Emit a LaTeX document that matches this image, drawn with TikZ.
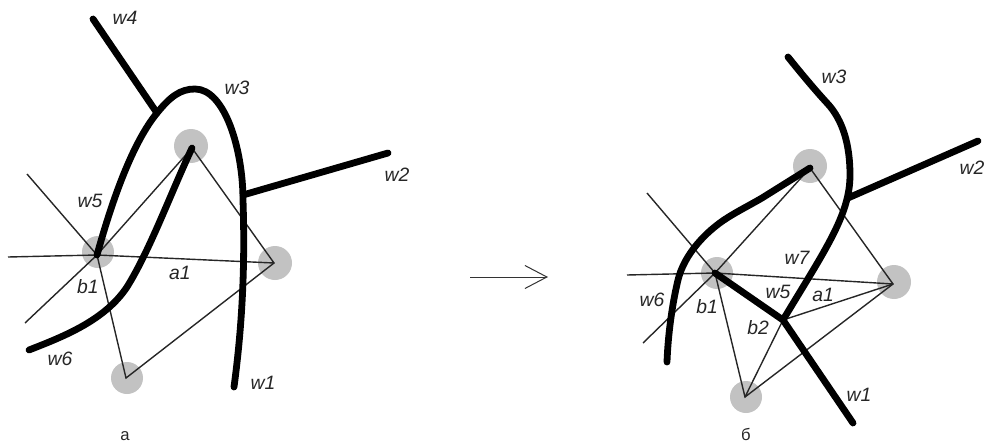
\documentclass[tikz,border=0pt]{standalone}
\usepackage{fontspec}
\setmainfont{Liberation Sans}
\usetikzlibrary{arrows.meta}
\tikzset{
  x=0.75pt,y=-0.75pt,
  hub/.style={circle,fill=black!24,draw=none,minimum size=34*0.75pt,inner sep=0pt},
  thin line/.style={line width=1.05pt,draw=black!85},
  wire/.style={line width=5.1pt,draw=black,line cap=round,line join=round},
  lab/.style={font=\fontsize{14.5pt}{16pt}\selectfont\itshape,inner sep=0pt,text=black!85},
  captext/.style={font=\fontsize{12.5pt}{15pt}\selectfont,inner sep=0pt,text=black!85},
}
\begin{document}
\begin{tikzpicture}
\useasboundingbox (0,0) rectangle (986,446);
% ---- left figure
\node[hub] (aT) at (191,146) {};
\node[hub,minimum size=32*0.75pt] (aL) at (98,252) {};
\node[hub] (aR) at (275,263) {};
\node[hub,minimum size=32*0.75pt] (aB) at (127,378) {};
\coordinate (at) at (192,148);
\coordinate (al) at (97,255);
\coordinate (ar) at (274,263);
\coordinate (ab) at (126,378);
\coordinate (ax1) at (25,323);
\coordinate (ax2) at (27,174);
\coordinate (ax3) at (8,257);
\draw[thin line] (ax1) -- (al) -- (at) -- (ar) -- (ab) -- (al) -- (ax2);
\draw[thin line] (ax3) -- (al) -- (ar);
\coordinate (w4a) at (93,19);
\coordinate (w4b) at (157,113);
\coordinate (w2a) at (243,195);
\coordinate (w2b) at (388,153);
\coordinate (w1e) at (234,387);
\coordinate (w6e) at (29,350);
\draw[wire] (w4a) -- (w4b);
\draw[wire] (w2a) -- (w2b);
\draw[wire] (al) .. controls (115,190) and (135,140) .. (w4b)
  .. controls (170,97) and (180,89) .. (195,89)
  .. controls (225,89) and (243,150) .. (243,200)
  .. controls (245,260) and (243,320) .. (w1e);
\draw[wire] (w6e) .. controls (65,336) and (105,320) .. (127,287)
  .. controls (150,250) and (170,195) .. (at);
% ---- arrow
\coordinate (arA) at (470,277);
\coordinate (arB) at (548,277);
\draw[line width=0.75pt,draw=black!80,-{Straight Barb[length=22*0.75pt,width=23*0.75pt]}] (arA) -- (arB);
% ---- right figure
\node[hub] (bT) at (810,166) {};
\node[hub,minimum size=32*0.75pt] (bL) at (717,273) {};
\node[hub] (bR) at (894,282) {};
\node[hub,minimum size=32*0.75pt] (bB) at (746,397) {};
\coordinate (bt) at (810,168);
\coordinate (bl) at (715,273);
\coordinate (br) at (893,284);
\coordinate (bb) at (745,397);
\coordinate (b2) at (783,320);
\coordinate (bx1) at (643,343);
\coordinate (bx2) at (647,193);
\coordinate (bx3) at (627,275);
\draw[thin line] (bx1) -- (bl) -- (bt) -- (br) -- (bb) -- (bl) -- (bx2);
\draw[thin line] (bx3) -- (bl) -- (br);
\draw[thin line] (b2) -- (br);
\draw[thin line] (b2) -- (bb);
\coordinate (w3a) at (788,57);
\coordinate (w2c) at (848,198);
\coordinate (w2d) at (978,141);
\coordinate (w1f) at (853,423);
\coordinate (w6f) at (667,362);
\draw[wire] (w2c) -- (w2d);
\draw[wire] (bl) -- (b2) -- (w1f);
\draw[wire] (w3a) .. controls (800,72) and (815,90) .. (827,103)
  .. controls (843,120) and (850,145) .. (850,175)
  .. controls (850,215) and (825,250) .. (b2);
\draw[wire] (bt) -- (762,198)
  .. controls (750,205) and (738,211) .. (727,218)
  .. controls (705,232) and (684,255) .. (678,280)
  .. controls (672,305) and (668,335) .. (w6f);
% ---- labels
\node[lab] (lw4) at (125,18) {w4};
\node[lab] (lw3) at (237,88) {w3};
\node[lab] (lw2) at (397,175) {w2};
\node[lab] (lw5) at (90,201) {w5};
\node[lab] (lb1) at (88,287) {b1};
\node[lab] (la1) at (180,273) {a1};
\node[lab] (lw6) at (60,359) {w6};
\node[lab] (lw1) at (263,383) {w1};
\node[captext] (capa) at (125,436) {а};
\node[lab] (rw3) at (834,77) {w3};
\node[lab] (rw2) at (972,168) {w2};
\node[lab] (rw7) at (797,258) {w7};
\node[lab] (rw5) at (778,292) {w5};
\node[lab] (ra1) at (823,295) {a1};
\node[lab] (rw6) at (652,300) {w6};
\node[lab] (rb1) at (707,307) {b1};
\node[lab] (rb2) at (758,328) {b2};
\node[lab] (rw1) at (859,395) {w1};
\node[captext] (capb) at (746,434) {б};
\end{tikzpicture}
\end{document}
